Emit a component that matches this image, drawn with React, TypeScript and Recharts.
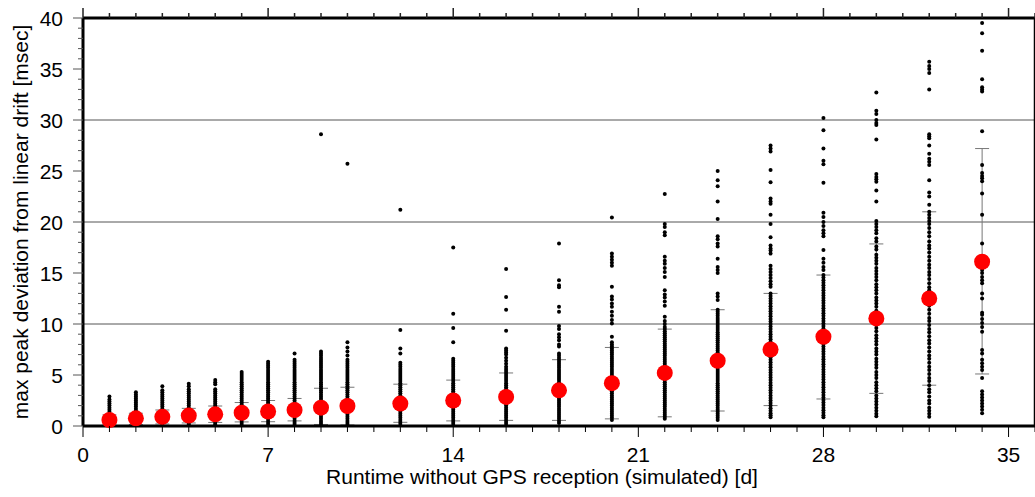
import { ComposedChart, Scatter, XAxis, YAxis, ReferenceLine, ErrorBar, Label } from "recharts";

// runtime without GPS [d]
const days = [1, 2, 3, 4, 5, 6, 7, 8, 9, 10, 12, 14, 16, 18, 20, 22, 24, 26, 28, 30, 32, 34];
// mean and +-1 sigma of max peak deviation [msec]
const meanDev = [0.59, 0.75, 0.9, 1.02, 1.14, 1.3, 1.42, 1.57, 1.8, 1.96, 2.2, 2.5, 2.85, 3.5, 4.2, 5.2, 6.4, 7.5, 8.75, 10.55, 12.5, 16.1];
const upperDev = [1.08, 1.25, 1.57, 1.73, 1.96, 2.3, 2.5, 2.7, 3.7, 3.8, 4.1, 4.5, 5.2, 6.5, 7.7, 9.5, 11.4, 13.0, 14.8, 17.85, 21.0, 27.2];
const lowerDev = [0.1, 0.15, 0.2, 0.3, 0.35, 0.4, 0.42, 0.5, 0.15, 0.1, 0.36, 0.5, 0.55, 0.55, 0.7, 0.9, 1.47, 2.0, 2.65, 3.2, 4.0, 5.1];

// single simulation runs per day
const runs1 = [2.9, 2.6, 2.4, 2.2, 2.0, 1.8, 1.6, 1.4, 1.2, 1.0, 0.8, 0.6, 0.4, 0.2, 0.05];
const runs2 = [3.3, 3.1, 2.9, 2.7, 2.5, 2.3, 2.1, 1.9, 1.7, 1.5, 1.3, 1.1, 0.9, 0.7, 0.5, 0.3, 0.1];
const runs3 = [3.9, 3.5, 3.3, 3.1, 2.9, 2.7, 2.5, 2.3, 2.1, 1.9, 1.7, 1.5, 1.3, 1.1, 0.9, 0.7, 0.5, 0.3, 0.12];
const runs4 = [4.15, 3.9, 3.6, 3.4, 3.2, 3.0, 2.8, 2.6, 2.4, 2.2, 2.0, 1.8, 1.6, 1.4, 1.2, 1.0, 0.8, 0.6, 0.4, 0.2, 0.1];
const runs5 = [4.5, 4.3, 4.1, 3.6, 3.4, 3.2, 3.0, 2.8, 2.6, 2.4, 2.2, 2.0, 1.8, 1.6, 1.4, 1.2, 1.0, 0.8, 0.6, 0.4, 0.2, 0.1];
const runs6 = [5.3, 5.1, 4.9, 4.7, 4.5, 4.3, 4.1, 3.9, 3.7, 3.5, 3.3, 3.1, 2.9, 2.7, 2.5, 2.3, 2.1, 1.9, 1.7, 1.5, 1.3, 1.1, 0.9, 0.7, 0.5, 0.3, 0.1];
const runs7 = [6.3, 6.1, 5.9, 5.7, 5.5, 5.3, 5.1, 4.9, 4.7, 4.5, 4.3, 4.1, 3.9, 3.7, 3.5, 3.3, 3.1, 2.9, 2.7, 2.5, 2.3, 2.1, 1.9, 1.7, 1.5, 1.3, 1.1, 0.9, 0.7, 0.5, 0.3, 0.1];
const runs8 = [7.1, 6.5, 6.3, 6.1, 5.9, 5.7, 5.5, 5.3, 5.1, 4.9, 4.7, 4.5, 4.3, 4.1, 3.9, 3.7, 3.5, 3.3, 3.1, 2.9, 2.7, 2.5, 2.3, 2.1, 1.9, 1.7, 1.5, 1.3, 1.1, 0.9, 0.7, 0.5, 0.3, 0.1];
const runs9 = [28.6, 7.3, 7.1, 6.9, 6.7, 6.5, 6.3, 6.1, 5.9, 5.7, 5.5, 5.3, 5.1, 4.9, 4.7, 4.5, 4.3, 4.1, 3.9, 3.7, 3.5, 3.3, 3.1, 2.9, 2.7, 2.5, 2.3, 2.1, 1.9, 1.7, 1.5, 1.3, 1.1, 0.9, 0.7, 0.5, 0.3, 0.1];
const runs10 = [25.7, 8.2, 7.7, 7.3, 6.9, 6.5, 6.3, 6.1, 5.9, 5.7, 5.5, 5.3, 5.1, 4.9, 4.7, 4.5, 4.3, 4.1, 3.9, 3.7, 3.5, 3.3, 3.1, 2.9, 2.7, 2.5, 2.3, 2.1, 1.9, 1.7, 1.5, 1.3, 1.1, 0.9, 0.7, 0.5, 0.3, 0.1];
const runs12 = [21.2, 9.4, 7.6, 7.1, 6.2, 6.0, 5.8, 5.6, 5.4, 5.2, 5.0, 4.8, 4.6, 4.4, 4.2, 4.0, 3.8, 3.6, 3.4, 3.2, 3.0, 2.8, 2.6, 2.4, 2.2, 2.0, 1.8, 1.6, 1.4, 1.2, 1.0, 0.8, 0.6, 0.4, 0.2];
const runs14 = [17.5, 11.0, 9.6, 8.2, 6.6, 6.4, 6.2, 6.0, 5.8, 5.6, 5.4, 5.2, 5.0, 4.8, 4.6, 4.4, 4.2, 4.0, 3.8, 3.6, 3.4, 3.2, 3.0, 2.8, 2.6, 2.4, 2.2, 2.0, 1.8, 1.6, 1.4, 1.2, 1.0, 0.8, 0.6, 0.4, 0.2];
const runs16 = [15.4, 12.65, 11.4, 9.35, 7.6, 7.4, 7.2, 7.0, 6.7, 6.4, 6.1, 5.8, 5.6, 5.4, 5.2, 5.0, 4.8, 4.6, 4.4, 4.2, 4.0, 3.8, 3.6, 3.4, 3.2, 3.0, 2.8, 2.6, 2.4, 2.2, 2.0, 1.8, 1.6, 1.4, 1.2, 1.0, 0.8, 0.6, 0.4, 0.2];
const runs18 = [17.9, 14.3, 13.8, 13.6, 11.7, 11.2, 9.8, 9.5, 9.0, 8.7, 8.4, 8.0, 7.8, 7.1, 6.9, 6.7, 6.5, 6.3, 6.1, 5.9, 5.7, 5.5, 5.3, 5.1, 4.9, 4.7, 4.5, 4.3, 4.1, 3.9, 3.7, 3.5, 3.3, 3.1, 2.9, 2.7, 2.5, 2.3, 2.1, 1.9, 1.7, 1.5, 1.3, 1.1, 0.9, 0.7, 0.5, 0.3];
const runs20 = [20.45, 16.9, 16.6, 16.3, 16.0, 15.7, 13.65, 12.7, 12.4, 12.0, 11.7, 11.2, 10.8, 10.4, 10.05, 8.75, 8.2, 8.0, 7.8, 7.6, 7.4, 7.2, 7.0, 6.8, 6.6, 6.4, 6.2, 6.0, 5.8, 5.6, 5.4, 5.2, 5.0, 4.8, 4.6, 4.4, 4.2, 4.0, 3.8, 3.6, 3.4, 3.2, 3.0, 2.8, 2.6, 2.4, 2.2, 2.0, 1.8, 1.6, 1.4, 1.2, 1.0, 0.8, 0.6];
const runs22 = [22.75, 19.8, 19.5, 19.0, 18.7, 16.6, 16.2, 15.9, 15.5, 15.1, 14.6, 13.3, 12.9, 12.6, 12.2, 11.8, 10.7, 10.3, 10.0, 9.7, 9.5, 9.3, 9.1, 8.9, 8.7, 8.5, 8.3, 8.1, 7.9, 7.7, 7.5, 7.3, 7.1, 6.9, 6.7, 6.5, 6.3, 6.1, 5.9, 5.7, 5.5, 5.3, 5.1, 4.9, 4.7, 4.5, 4.3, 4.1, 3.9, 3.7, 3.5, 3.3, 3.1, 2.9, 2.7, 2.5, 2.3, 2.1, 1.9, 1.7, 1.5, 1.3, 1.1, 0.9, 0.7];
const runs24 = [25.0, 24.1, 23.5, 22.0, 20.3, 18.6, 18.3, 17.9, 17.6, 16.4, 15.6, 15.3, 15.0, 13.0, 12.7, 12.35, 11.4, 11.2, 11.0, 10.8, 10.6, 10.4, 10.2, 10.0, 9.8, 9.6, 9.4, 9.2, 9.0, 8.8, 8.6, 8.4, 8.2, 8.0, 7.8, 7.6, 7.4, 7.2, 7.0, 6.8, 6.6, 6.4, 6.2, 6.0, 5.8, 5.6, 5.4, 5.2, 5.0, 4.8, 4.6, 4.4, 4.2, 4.0, 3.8, 3.6, 3.4, 3.2, 3.0, 2.8, 2.6, 2.4, 2.2, 2.0, 1.8, 1.6, 1.4, 1.2, 1.0, 0.8, 0.6];
const runs26 = [27.5, 27.2, 26.9, 25.1, 23.9, 22.3, 22.0, 21.8, 20.7, 19.8, 18.5, 17.7, 17.4, 17.2, 16.9, 15.7, 15.4, 15.1, 14.8, 14.5, 14.2, 13.9, 13.65, 13.0, 12.75, 12.5, 12.25, 12.0, 11.75, 11.5, 11.25, 11.0, 10.75, 10.5, 10.25, 10.0, 9.75, 9.5, 9.25, 9.0, 8.75, 8.5, 8.25, 8.0, 7.75, 7.5, 7.25, 7.0, 6.75, 6.5, 6.25, 6.0, 5.75, 5.5, 5.25, 5.0, 4.75, 4.5, 4.25, 4.0, 3.75, 3.5, 3.25, 3.0, 2.75, 2.5, 2.25, 2.0, 1.75, 1.5, 1.25, 1.05, 0.85];
const runs28 = [30.2, 29.0, 27.2, 26.0, 25.65, 23.85, 20.9, 20.5, 20.0, 19.6, 19.2, 18.9, 18.6, 17.25, 16.4, 16.0, 15.6, 15.3, 14.8, 14.55, 14.3, 14.05, 13.8, 13.55, 13.3, 13.05, 12.8, 12.55, 12.3, 12.05, 11.8, 11.55, 11.3, 11.05, 10.8, 10.55, 10.3, 10.05, 9.8, 9.55, 9.3, 9.05, 8.8, 8.55, 8.3, 8.05, 7.8, 7.55, 7.3, 7.05, 6.8, 6.55, 6.3, 6.05, 5.8, 5.55, 5.3, 5.05, 4.8, 4.55, 4.3, 4.05, 3.8, 3.55, 3.3, 3.05, 2.8, 2.55, 2.3, 2.05, 1.8, 1.55, 1.3, 1.05, 0.85];
const runs30 = [32.7, 30.9, 30.6, 30.0, 29.7, 29.5, 28.1, 24.7, 24.4, 24.2, 23.95, 23.1, 22.0, 20.1, 19.8, 19.5, 19.2, 18.9, 18.4, 18.1, 17.6, 17.3, 16.8, 16.5, 16.2, 15.9, 15.5, 15.2, 14.9, 14.6, 14.3, 13.9, 13.6, 13.3, 13.0, 12.6, 12.3, 12.0, 11.7, 11.3, 11.0, 10.6, 10.2, 9.9, 9.6, 9.3, 8.9, 8.6, 8.3, 8.0, 7.6, 7.3, 7.0, 6.6, 6.3, 6.0, 5.7, 5.3, 5.0, 4.7, 4.3, 4.0, 3.7, 3.4, 3.0, 2.7, 2.4, 2.1, 1.8, 1.5, 1.2, 0.95];
const runs32 = [35.7, 35.3, 35.0, 34.6, 33.0, 28.6, 28.4, 28.2, 27.5, 26.7, 26.2, 25.9, 25.6, 24.1, 22.9, 22.5, 21.7, 21.0, 20.7, 20.4, 20.1, 19.8, 19.4, 19.0, 18.6, 18.1, 17.7, 17.4, 17.0, 16.6, 16.2, 15.8, 15.5, 15.1, 14.8, 14.4, 14.0, 13.6, 13.3, 12.9, 12.5, 12.1, 11.8, 11.4, 11.0, 10.6, 10.3, 9.9, 9.5, 9.2, 8.8, 8.4, 8.1, 7.7, 7.3, 6.9, 6.6, 6.2, 5.8, 5.5, 5.1, 4.7, 4.4, 4.0, 3.6, 3.3, 2.9, 2.5, 2.2, 1.8, 1.5, 1.2, 0.9];
const runs34 = [39.5, 38.5, 36.8, 34.0, 33.2, 33.0, 32.8, 28.9, 25.6, 24.8, 24.5, 24.3, 24.0, 22.8, 20.7, 17.9, 15.3, 15.0, 14.6, 14.3, 14.0, 13.0, 12.5, 11.1, 10.9, 10.5, 10.1, 9.7, 9.25, 7.45, 7.1, 6.5, 6.15, 5.8, 5.5, 4.7, 3.4, 3.1, 2.8, 2.5, 2.2, 1.9, 1.6, 1.25];

const runsByDay = [runs1, runs2, runs3, runs4, runs5, runs6, runs7, runs8, runs9, runs10, runs12, runs14, runs16, runs18, runs20, runs22, runs24, runs26, runs28, runs30, runs32, runs34];

const xTicks = Array.from({ length: 37 }, (_, i) => i);
const yTicks = Array.from({ length: 41 }, (_, i) => i);

const runPoints = days.flatMap((d, i) => runsByDay[i].map((v) => ({ day: d, dev: v })));
const meanPoints = days.map((d, i) => ({
  day: d,
  dev: meanDev[i],
  err: [meanDev[i] - lowerDev[i], upperDev[i] - meanDev[i]]
}));

const FONT = "'Liberation Sans', Arial, Helvetica, sans-serif";

// bottom tick, labels every 7 days
function DayTick({ x, y, payload }: any) {
  const major = payload.value % 7 === 0;
  return (
    <g>
      <line x1={x} x2={x} y1={y} y2={y + (major ? 11 : 6)} stroke="#000" strokeWidth={1} />
      {major && (
        <text x={x} y={y + 36} textAnchor="middle" fontSize={21} fontFamily={FONT} fill="#000">
          {payload.value}
        </text>
      )}
    </g>
  );
}

// top tick, no label; drawn as a small filled rect above the frame
function TopTick({ x, y, payload }: any) {
  const major = payload.value % 7 === 0;
  const len = major ? 10 : 5;
  return <rect x={x - 0.75} y={y - len} width={1.5} height={len} fill="#222" />;
}

function LeftTick({ x, y, payload }: any) {
  const major = payload.value % 5 === 0;
  return (
    <g>
      <line x1={x} x2={x - (major ? 10 : 5)} y1={y} y2={y} stroke="#555" strokeWidth={1} />
      {major && (
        <text x={x - 20} y={y + 8} textAnchor="end" fontSize={21} fontFamily={FONT} fill="#000">
          {payload.value}
        </text>
      )}
    </g>
  );
}

export default function App() {
  return (
    <div style={{ position: "absolute", left: 0, top: 0, width: 1035, height: 497, background: "#fff" }}>
      <ComposedChart width={1035} height={497} margin={{ top: 0, right: 0, bottom: 0, left: 0 }}>
        <XAxis
          xAxisId="b"
          dataKey="day"
          type="number"
          domain={[0, 36]}
          ticks={xTicks}
          interval={0}
          tick={<DayTick />}
          tickLine={false}
          tickSize={0}
          tickMargin={0}
          height={71}
          axisLine={{ stroke: "#000", strokeWidth: 3 }}
        >
          <Label
            content={({ viewBox }: any) => (
              <text
                x={viewBox.x + viewBox.width / 2 - 17}
                y={viewBox.y + 58}
                textAnchor="middle"
                fontSize={21}
                fontFamily={FONT}
                fill="#000"
              >
                Runtime without GPS reception (simulated) [d]
              </text>
            )}
          />
        </XAxis>
        <XAxis
          xAxisId="t"
          orientation="top"
          dataKey="day"
          type="number"
          domain={[0, 36]}
          ticks={xTicks}
          interval={0}
          tick={<TopTick />}
          tickLine={false}
          tickSize={0}
          tickMargin={0}
          height={18}
          axisLine={{ stroke: "#000", strokeWidth: 3 }}
        />
        <YAxis
          yAxisId="l"
          dataKey="dev"
          type="number"
          domain={[0, 40]}
          ticks={yTicks}
          interval={0}
          tick={<LeftTick />}
          tickLine={false}
          tickSize={0}
          tickMargin={0}
          width={83}
          axisLine={{ stroke: "#000", strokeWidth: 3 }}
        >
          <Label
            content={({ viewBox }: any) => {
              const cx = viewBox.x + 28;
              const cy = viewBox.y + viewBox.height / 2;
              return (
                <text
                  x={cx}
                  y={cy}
                  transform={`rotate(-90 ${cx} ${cy})`}
                  textAnchor="middle"
                  fontSize={21}
                  fontFamily={FONT}
                  fill="#000"
                >
                  max peak deviation from linear drift [msec]
                </text>
              );
            }}
          />
        </YAxis>

        {[10, 20, 30].map((v) => (
          <ReferenceLine key={v} xAxisId="b" yAxisId="l" y={v} stroke="#555" strokeWidth={1} />
        ))}
        <ReferenceLine xAxisId="b" yAxisId="l" x={36} stroke="#000" strokeWidth={2.5} />

        <Scatter
          xAxisId="t"
          yAxisId="l"
          data={meanPoints}
          dataKey="dev"
          isAnimationActive={false}
          shape={() => <g />}
        >
          <ErrorBar dataKey="err" direction="y" width={7} stroke="#777" strokeWidth={1} />
        </Scatter>
        <Scatter
          xAxisId="b"
          yAxisId="l"
          data={runPoints}
          dataKey="dev"
          isAnimationActive={false}
          shape={(p: any) => <circle cx={p.cx} cy={p.cy} r={2} fill="#000" />}
        />
        <Scatter
          xAxisId="b"
          yAxisId="l"
          data={meanPoints}
          dataKey="dev"
          isAnimationActive={false}
          shape={(p: any) => <circle cx={p.cx} cy={p.cy} r={8} fill="#ff0000" />}
        />
      </ComposedChart>
    </div>
  );
}
